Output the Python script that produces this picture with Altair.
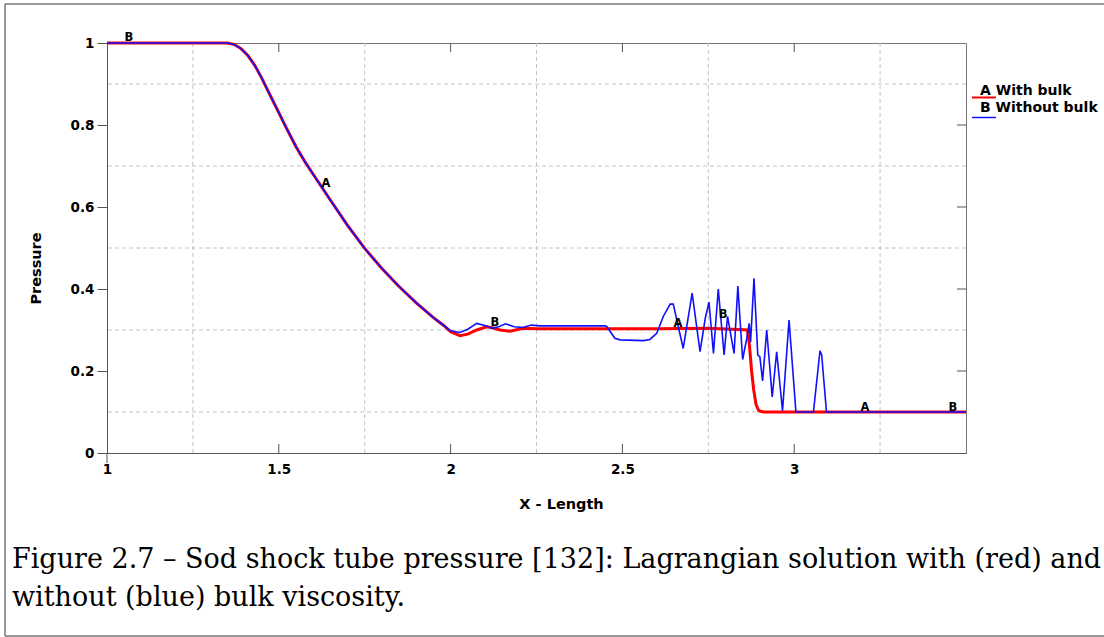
import altair as alt
import pandas as pd

# ---- data ----
rare_x = [1.0, 1.35, 1.37, 1.39, 1.41, 1.43, 1.45, 1.47, 1.49, 1.50, 1.52, 1.55, 1.575, 1.60, 1.65, 1.70,
          1.75, 1.80, 1.85, 1.90, 1.95, 1.98]
rare_y = [1.0, 1.0, 0.9966, 0.9864, 0.9694, 0.9456, 0.915, 0.881, 0.847, 0.830, 0.796, 0.747, 0.712, 0.680,
          0.617, 0.555, 0.499, 0.450, 0.406, 0.366, 0.330, 0.311]

red_x = rare_x + [2.0, 2.027, 2.05, 2.076, 2.105, 2.125, 2.144, 2.173, 2.211, 2.251, 2.435, 2.6, 2.75, 2.82,
                  2.864, 2.870, 2.876, 2.882, 2.889, 2.897, 2.91, 3.0, 3.5]
red_y = rare_y + [0.296, 0.286, 0.29, 0.30, 0.308, 0.305, 0.30, 0.297, 0.304, 0.303, 0.303, 0.303, 0.304, 0.302,
                  0.30, 0.26, 0.20, 0.155, 0.118, 0.103, 0.1, 0.1, 0.1]

blue_x = rare_x + [2.0, 2.027, 2.05, 2.076, 2.105, 2.12, 2.14, 2.16, 2.185, 2.21, 2.235, 2.26, 2.45, 2.455,
                   2.478, 2.493, 2.561, 2.580, 2.600, 2.619, 2.639, 2.648, 2.677, 2.703, 2.726, 2.741, 2.752, 2.765,
                   2.779, 2.796, 2.806, 2.825, 2.836, 2.850, 2.862, 2.869, 2.873, 2.883, 2.894, 2.900, 2.908, 2.920,
                   2.936, 2.949, 2.966, 2.985, 3.005, 3.056, 3.075, 3.080, 3.094, 3.5]
blue_y = rare_y + [0.298, 0.294, 0.302, 0.316, 0.31, 0.304, 0.308, 0.315, 0.308, 0.306, 0.312, 0.31, 0.31, 0.308,
                   0.28, 0.276, 0.274, 0.277, 0.292, 0.333, 0.363, 0.363, 0.255, 0.39, 0.247, 0.328, 0.368, 0.243,
                   0.40, 0.239, 0.333, 0.243, 0.407, 0.228, 0.28, 0.316, 0.27, 0.426, 0.239, 0.235, 0.176, 0.30,
                   0.137, 0.247, 0.103, 0.324, 0.1, 0.1, 0.249, 0.239, 0.1, 0.1]

label_a_x = [1.637, 2.662, 3.206]
label_a_y = [0.656, 0.315, 0.11]
label_b_x = [1.064, 2.129, 2.793, 3.462]
label_b_y = [1.012, 0.317, 0.337, 0.11]

x_ticks = [1, 1.5, 2, 2.5, 3]
y_ticks = [0, 0.2, 0.4, 0.6, 0.8, 1]
x_grid = [1.25, 1.75, 2.25, 2.75, 3.25]
y_grid = [0.1, 0.3, 0.5, 0.7, 0.9]
x_inner_ticks = [1.5, 2, 2.5, 3]
y_inner_ticks = [0.2, 0.4, 0.6, 0.8]

legend_labels = ["A With bulk", "B Without bulk"]
caption_lines = ["Figure 2.7 \u2013 Sod shock tube pressure [132]: Lagrangian solution with (red) and",
                 "without (blue) bulk viscosity."]

W, H = 859, 410
FONT = "DejaVu Sans"

xs = alt.Scale(domain=[1, 3.5], nice=False)
ys = alt.Scale(domain=[0, 1], nice=False)

red_df = pd.DataFrame({"x": red_x, "y": red_y})
blue_df = pd.DataFrame({"x": blue_x, "y": blue_y})

gx = alt.Chart(pd.DataFrame({"g": x_grid})).mark_rule(color="#c4c4c4", strokeDash=[4, 3], strokeWidth=1).encode(
    x=alt.X("g:Q", scale=xs))
gy = alt.Chart(pd.DataFrame({"g": y_grid})).mark_rule(color="#c4c4c4", strokeDash=[4, 3], strokeWidth=1).encode(
    y=alt.Y("g:Q", scale=ys))

base_axes = alt.Chart(red_df).mark_point(opacity=0).encode(
    x=alt.X("x:Q", scale=xs, axis=alt.Axis(values=x_ticks, format="~g", grid=False, ticks=False,
                                          labelFlush=False, labelPadding=9, title="X - Length",
                                          titlePadding=22, titleX=454,
                                          domainColor="#555", labelFont=FONT, labelFontSize=13.5,
                                          labelFontWeight="bold", titleFont=FONT, titleFontSize=14.5,
                                          titleFontWeight="bold", labelColor="black", titleColor="black")),
    y=alt.Y("y:Q", scale=ys, axis=alt.Axis(values=y_ticks, format="~g", grid=False, tickSize=10,
                                          labelFlush=False,
                                          tickColor="#555", labelPadding=3, title="Pressure",
                                          titlePadding=27, titleY=225, domainColor="#555", labelFont=FONT,
                                          labelFontSize=13.5, labelFontWeight="bold", titleFont=FONT,
                                          titleFontSize=14.5, titleFontWeight="bold", labelColor="black",
                                          titleColor="black")),
)

tick_bottom = alt.Chart(pd.DataFrame({"t": x_inner_ticks})).mark_rule(color="#555").encode(
    x=alt.X("t:Q", scale=xs), y=alt.value(H), y2=alt.value(H - 9))
tick_top = alt.Chart(pd.DataFrame({"t": x_inner_ticks})).mark_rule(color="#555").encode(
    x=alt.X("t:Q", scale=xs), y=alt.value(0), y2=alt.value(9))
tick_right = alt.Chart(pd.DataFrame({"t": y_inner_ticks})).mark_rule(color="#555").encode(
    y=alt.Y("t:Q", scale=ys), x=alt.value(W), x2=alt.value(W - 9))
axis_ext = alt.Chart(pd.DataFrame({"t": [0]})).mark_rule(color="#555").encode(
    x=alt.value(0), y=alt.value(H), y2=alt.value(H + 10))

red_line = alt.Chart(red_df).mark_line(color="#ff0000", strokeWidth=3).encode(
    x=alt.X("x:Q", scale=xs), y=alt.Y("y:Q", scale=ys))
blue_line = alt.Chart(blue_df).mark_line(color="#1010ff", strokeWidth=1.6).encode(
    x=alt.X("x:Q", scale=xs), y=alt.Y("y:Q", scale=ys))

lab_a = alt.Chart(pd.DataFrame({"x": label_a_x, "y": label_a_y, "t": ["A"] * 3})).mark_text(
    font=FONT, fontSize=11.5, fontWeight="bold", color="black", baseline="middle").encode(
    x=alt.X("x:Q", scale=xs), y=alt.Y("y:Q", scale=ys), text="t:N")
lab_b = alt.Chart(pd.DataFrame({"x": label_b_x, "y": label_b_y, "t": ["B"] * 4})).mark_text(
    font=FONT, fontSize=11.5, fontWeight="bold", color="black", baseline="middle").encode(
    x=alt.X("x:Q", scale=xs), y=alt.Y("y:Q", scale=ys), text="t:N")

# legend (custom, outside plot on the right)
leg_text = alt.Chart(pd.DataFrame({"t": legend_labels, "yy": [48, 65]})).mark_text(
    font=FONT, fontSize=14, fontWeight="bold", color="black", align="left", baseline="middle").encode(
    x=alt.value(873), y=alt.Y("yy:Q", scale=None), text="t:N")
leg_red = alt.Chart(pd.DataFrame({"t": [0]})).mark_rule(color="#ff0000", strokeWidth=2).encode(
    x=alt.value(865), x2=alt.value(889), y=alt.value(54.5))
leg_blue = alt.Chart(pd.DataFrame({"t": [0]})).mark_rule(color="#1010ff", strokeWidth=1.5).encode(
    x=alt.value(865), x2=alt.value(889), y=alt.value(74.5))

# caption
cap = alt.Chart(pd.DataFrame({"t": caption_lines, "yy": [525, 563]})).mark_text(
    font="DejaVu Serif", fontSize=27, color="black", align="left", baseline="alphabetic").encode(
    x=alt.value(-95), y=alt.Y("yy:Q", scale=None), text="t:N")

# outer figure frame
frame_left = alt.Chart(pd.DataFrame({"t": [0]})).mark_rule(color="#777", strokeWidth=1.5).encode(
    x=alt.value(-102), y=alt.value(-39), y2=alt.value(593))
frame_top = alt.Chart(pd.DataFrame({"t": [0]})).mark_rule(color="#777", strokeWidth=1.5).encode(
    x=alt.value(-102), x2=alt.value(1000), y=alt.value(-39))
frame_bot = alt.Chart(pd.DataFrame({"t": [0]})).mark_rule(color="#777", strokeWidth=1.5).encode(
    x=alt.value(-102), x2=alt.value(1000), y=alt.value(593))

chart = alt.layer(
    gx, gy, base_axes, tick_bottom, tick_top, tick_right, axis_ext,
    red_line, blue_line, lab_a, lab_b, leg_text, leg_red, leg_blue, cap,
    frame_left, frame_top, frame_bot,
).properties(
    width=W, height=H,
    autosize=alt.AutoSizeParams(type="none"),
    padding={"left": 107, "top": 43, "right": 138, "bottom": 184},
    background="white",
).configure_view(stroke="#777", strokeWidth=1)

chart.save("out.html", embed_options={"renderer": "svg", "actions": False})
